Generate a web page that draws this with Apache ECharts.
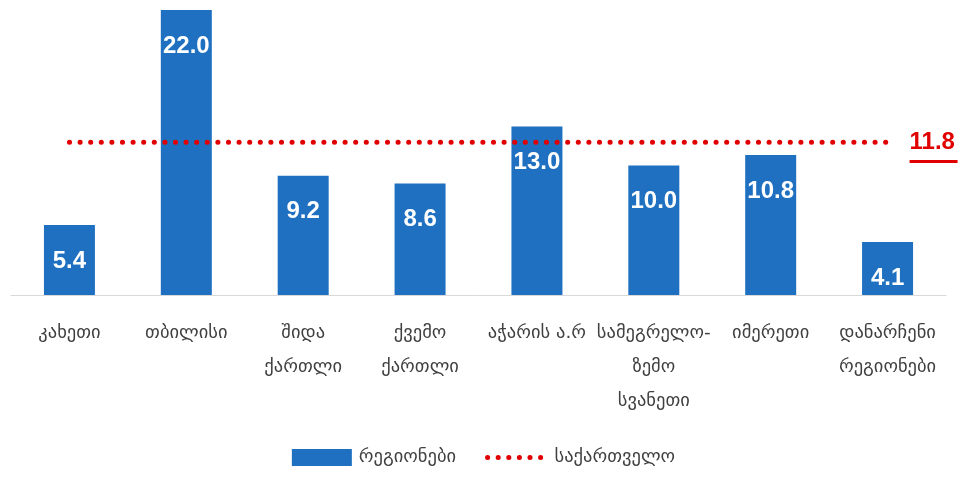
<!DOCTYPE html>
<html><head><meta charset="utf-8">
<script src="https://cdn.jsdelivr.net/npm/echarts@6/dist/echarts.min.js"></script>
<style>html,body{margin:0;padding:0;background:#fff}#c{width:967px;height:477px}</style>
</head><body><div id="c"></div>
<script>
const categories = ['კახეთი','თბილისი','შიდა\nქართლი','ქვემო\nქართლი','აჭარის ა.რ','სამეგრელო-\nზემო\nსვანეთი','იმერეთი','დანარჩენი\nრეგიონები'];
const regionValues = [5.4, 22.0, 9.2, 8.6, 13.0, 10.0, 10.8, 4.1];
const georgiaValue = 11.8;
const georgiaValues = categories.map(() => georgiaValue);
const seriesNames = ['რეგიონები', 'საქართველო'];

const RED = '#E00000';
const dotted = { color: RED, width: 5, type: [0.1, 10.5], cap: 'round' };

const chart = echarts.init(document.getElementById('c'));
chart.setOption({
  animation: false,
  grid: { left: 11, right: 21, top: 10, bottom: 182, containLabel: false },
  legend: {
    top: 443, left: 'center',
    itemWidth: 60, itemHeight: 17, itemGap: 29,
    textStyle: { fontFamily: 'DejaVu Sans', fontSize: 18.5, color: '#404040', padding: [0, 0, 0, 2] },
    data: [
      { name: seriesNames[0], icon: 'rect' },
      { name: seriesNames[1], lineStyle: dotted, itemStyle: { opacity: 0 } }
    ]
  },
  xAxis: {
    type: 'category', data: categories,
    axisLine: { lineStyle: { color: '#d9d9d9', width: 1 } },
    axisTick: { show: false },
    axisLabel: { interval: 0, margin: 21, fontFamily: 'DejaVu Sans', fontSize: 18.5, color: '#404040', lineHeight: 34 }
  },
  yAxis: { type: 'value', min: 0, max: 22, show: false, splitLine: { show: false } },
  series: [
    {
      name: seriesNames[0], type: 'bar', data: regionValues, barWidth: 51,
      itemStyle: { color: '#1F70C1' },
      label: { show: true, position: 'insideTop', distance: 24, color: '#fff', fontFamily: 'Liberation Sans', fontWeight: 'bold', fontSize: 24,
        formatter: p => p.value.toFixed(1) }
    },
    {
      name: seriesNames[1], type: 'line', data: georgiaValues, symbol: 'none', z: 5,
      lineStyle: dotted,
      itemStyle: { color: RED },
      endLabel: {
        show: true, distance: 22, offset: [0, 4],
        formatter: () => '{a|' + georgiaValue.toFixed(1) + '}\n{s|}\n{u|}',
        rich: {
          a: { fontFamily: 'Liberation Sans', fontWeight: 'bold', fontSize: 24, color: RED, height: 26 },
          s: { height: 4.5 },
          u: { width: 48, height: 3, backgroundColor: RED }
        }
      }
    }
  ]
});
</script></body></html>
